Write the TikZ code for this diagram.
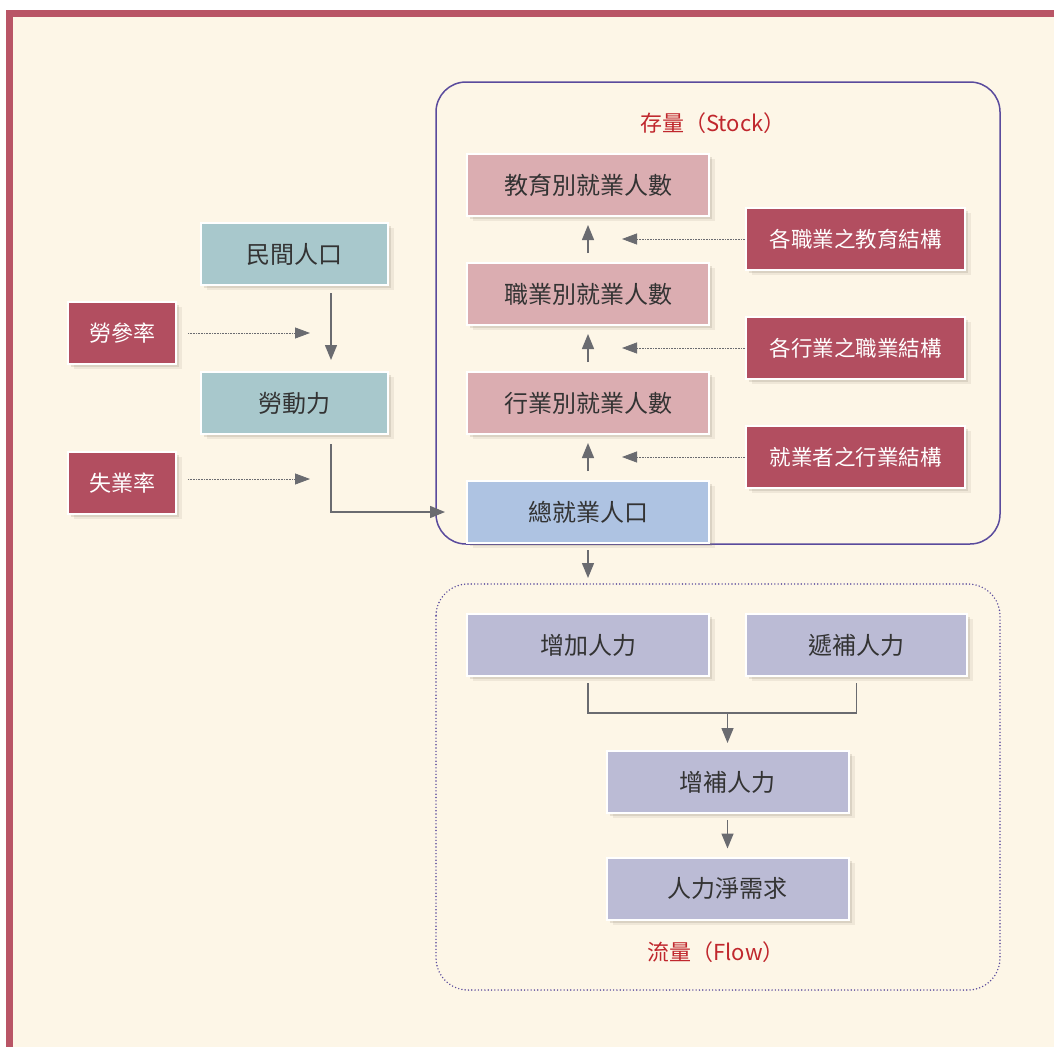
\documentclass[tikz,border=0pt]{standalone}
\usepackage{fontspec}
\newfontfamily\cjk{Noto Sans CJK TC}
\usetikzlibrary{arrows.meta,shadows}
\definecolor{bgcol}{HTML}{FDF6E7}
\definecolor{framecol}{HTML}{B95566}
\definecolor{tealc}{HTML}{A8C8CC}
\definecolor{redc}{HTML}{B24E60}
\definecolor{pinkc}{HTML}{DBADB1}
\definecolor{bluec}{HTML}{AEC3E2}
\definecolor{lavc}{HTML}{BBBBD5}
\definecolor{txtc}{HTML}{333333}
\definecolor{labc}{HTML}{C0272D}
\definecolor{stockc}{HTML}{5A4B9D}
\definecolor{arrc}{HTML}{6A6B70}
\definecolor{shadc}{HTML}{8A8270}
\begin{document}
\begin{tikzpicture}[x=1pt,y=-1pt,
  box/.style={draw=white, line width=2pt, inner sep=0pt, text=txtc,
    minimum height=62pt, font=\cjk\fontsize{24}{28}\selectfont,
    drop shadow={shadow xshift=6pt, shadow yshift=-5pt, fill=shadc, opacity=0.12},
    drop shadow={shadow xshift=3pt, shadow yshift=-3pt, fill=shadc, opacity=0.2}},
  tealbox/.style={box, fill=tealc, minimum width=187pt},
  ratebox/.style={box, fill=redc, text=white, minimum width=108pt, font=\cjk\fontsize{22}{26}\selectfont},
  pinkbox/.style={box, fill=pinkc, minimum width=242pt},
  bluebox/.style={box, fill=bluec, minimum width=242pt},
  structbox/.style={box, fill=redc, text=white, minimum width=219pt, font=\cjk\fontsize{21.5}{26}\selectfont},
  lavbox/.style={box, fill=lavc, minimum width=242pt},
  grouplabel/.style={text=labc, font=\cjk\fontsize{22}{26}\selectfont, inner sep=0pt},
  arr/.style={draw=arrc, line width=1.4pt, -{Triangle[length=15pt,width=12pt]}},
  plainline/.style={draw=arrc, line width=1.4pt},
  dotarr/.style={draw=arrc, line width=0.8pt, dash pattern=on 0.8pt off 0.8pt, -{Triangle[length=15pt,width=11pt]}},
  stockframe/.style={draw=stockc, line width=1.5pt, rounded corners=30pt},
  flowframe/.style={draw=stockc, line width=1.6pt, rounded corners=32pt, dash pattern=on 0pt off 3.3pt, line cap=round}
]
\useasboundingbox (0,0) rectangle (1054,1047);
\fill[white] (0,0) rectangle (1054,1047);
\fill[framecol] (6,10) rectangle (1054,1047);
\fill[bgcol] (13,17) rectangle (1054,1047);

% group frames
\draw[stockframe] (436,82) rectangle (1000,544);
\draw[flowframe] (436,584) rectangle (1000,990);
\node[grouplabel] (stocklab) at (713,123) {存量（Stock）};
\node[grouplabel] (flowlab) at (716,952) {流量（Flow）};

% left column
\node[tealbox] (mj) at (294.5,254) {民間人口};
\node[tealbox] (ldl) at (294.5,403) {勞動力};
\node[ratebox] (lcl) at (122,333) {勞參率};
\node[ratebox] (syl) at (122,483) {失業率};

% stock
\node[pinkbox] (jy) at (588,185) {教育別就業人數};
\node[pinkbox] (zy) at (588,294) {職業別就業人數};
\node[pinkbox] (hy) at (588,403) {行業別就業人數};
\node[bluebox] (zjy) at (588,512) {總就業人口};
\node[structbox] (s1) at (855.5,239) {各職業之教育結構};
\node[structbox] (s2) at (855.5,348) {各行業之職業結構};
\node[structbox] (s3) at (855.5,457) {就業者之行業結構};

% flow
\node[lavbox] (zj) at (588,645) {增加人力};
\node[lavbox, minimum width=221pt] (db) at (856.5,645) {遞補人力};
\node[lavbox] (zb) at (727.5,782) {增補人力};
\node[lavbox] (rl) at (727.5,888.5) {人力淨需求};

% free ends
\coordinate (a1) at (310,333);
\coordinate (a2) at (310,479);
\coordinate (c1) at (622,239);
\coordinate (c2) at (622,348);
\coordinate (c3) at (622,457);
\coordinate (fl) at (588,578);
\coordinate (mg) at (727.5,713);

% left connectors
\draw[arr, shorten <=7pt, shorten >=11pt] ([xshift=36.5pt]mj.south) -- ([xshift=36.5pt]ldl.north);
\draw[arr, shorten <=9pt, shorten >=21pt] ([xshift=36.5pt]ldl.south) |- (zjy.west);
\draw[dotarr, shorten <=11pt] (lcl.east) -- (a1);
\draw[dotarr, shorten <=11pt] (syl.east |- a2) -- (a2);

% stock connectors
\draw[arr, shorten <=9pt, shorten >=8pt] (zy.north) -- (jy.south);
\draw[arr, shorten <=9pt, shorten >=8pt] (hy.north) -- (zy.south);
\draw[arr, shorten <=9pt, shorten >=8pt] (zjy.north) -- (hy.south);
\draw[dotarr] (s1.west) -- (c1);
\draw[dotarr] (s2.west) -- (c2);
\draw[dotarr] (s3.west) -- (c3);
\draw[arr, shorten <=6pt] (zjy.south) -- (fl);

% flow connectors
\draw[plainline] ([yshift=-6pt]zj.south) |- (mg) -| ([yshift=-6pt]db.south);
\draw[arr, shorten >=7pt] (mg) -- (zb.north);
\draw[arr, shorten <=6pt, shorten >=8pt] (zb.south) -- (rl.north);
\end{tikzpicture}
\end{document}
